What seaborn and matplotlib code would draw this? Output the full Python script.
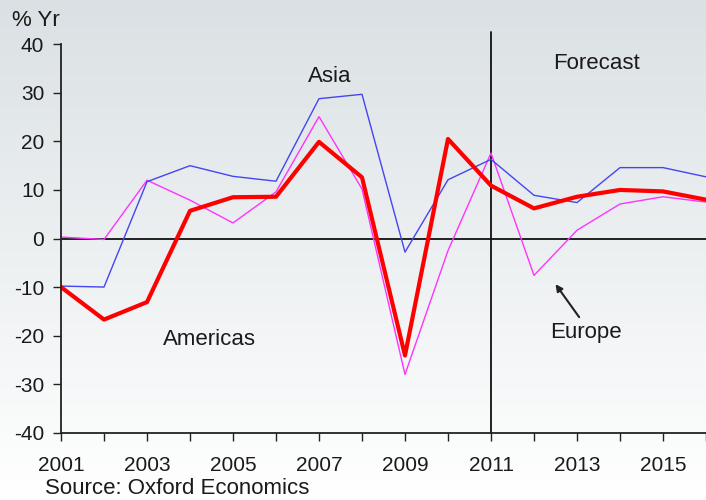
import numpy as np
import pandas as pd
import matplotlib.pyplot as plt
import seaborn as sns

# GDP growth by region, % year on year
years = [2001, 2002, 2003, 2004, 2005, 2006, 2007, 2008,
         2009, 2010, 2011, 2012, 2013, 2014, 2015, 2016]
asia = [-9.8, -10.0, 11.7, 15.0, 12.8, 11.8, 28.8, 29.7,
        -2.8, 12.1, 16.3, 8.9, 7.4, 14.6, 14.6, 12.7]
americas = [-10.0, -16.7, -13.1, 5.7, 8.5, 8.6, 19.9, 12.6,
            -24.1, 20.5, 10.9, 6.2, 8.6, 10.0, 9.7, 8.0]
europe = [0.3, -0.2, 12.0, 7.9, 3.2, 9.6, 25.1, 10.2,
          -28.0, -2.5, 17.6, -7.6, 1.7, 7.1, 8.6, 7.5]
tick_years = [2001, 2003, 2005, 2007, 2009, 2011, 2013, 2015]
forecast_start = 2011

df = pd.DataFrame({"year": years, "Asia": asia, "Americas": americas, "Europe": europe})

sns.set_style("ticks")
plt.rcParams['font.family'] = ['Liberation Sans', 'DejaVu Sans']
plt.rcParams['axes.unicode_minus'] = False

txt_color = '#1a1a1a'

fig = plt.figure(figsize=(7.06, 5.0), dpi=100)

# light grey to white background gradient
bg = fig.add_axes([0, 0, 1, 1], zorder=-10)
grad = np.linspace(0, 1, 256).reshape(-1, 1)
top = np.array([0.855, 0.882, 0.894])
bottom = np.array([1.0, 1.0, 1.0])
img = top + (bottom - top) * grad
bg.imshow(img[:, None, :].repeat(2, axis=1), aspect='auto', extent=[0, 1, 0, 1])
bg.axis('off')

ax = fig.add_axes([61 / 706, 67.3 / 500, 1 - 61 / 706, 388.4 / 500])
ax.set_facecolor('none')

sns.lineplot(data=df, x="year", y="Europe", ax=ax, color="#ff33ff", linewidth=1.0)
sns.lineplot(data=df, x="year", y="Asia", ax=ax, color="#4545f2", linewidth=1.0)
sns.lineplot(data=df, x="year", y="Americas", ax=ax, color="#ff0000", linewidth=3.0)

ax.set_xlim(2001, 2016)
ax.set_ylim(-40, 40)
ax.set_xticks(years)
ax.set_xticklabels([str(y) if y in tick_years else "" for y in years])
ax.set_yticks([-40, -30, -20, -10, 0, 10, 20, 30, 40])
ax.set_xlabel("")
ax.set_ylabel("")
ax.tick_params(axis='both', labelsize=15, length=6, width=1.0, color='#222222',
               labelcolor=txt_color)
ax.tick_params(axis='y', pad=6)
ax.tick_params(axis='x', pad=11)
for s in ['top', 'right']:
    ax.spines[s].set_visible(False)
for s in ['left', 'bottom']:
    ax.spines[s].set_color('#222222')
    ax.spines[s].set_linewidth(1.3)

ax.axhline(0, color='#111111', linewidth=1.3, zorder=1)
ax.plot([forecast_start, forecast_start], [-40, 42.5], color='#111111',
        linewidth=1.3, clip_on=False, zorder=1)

ax.text(2007.25, 33.4, "Asia", fontsize=16, color=txt_color, ha='center', va='center')
ax.text(2013.45, 36.0, "Forecast", fontsize=16, color=txt_color, ha='center', va='center')
ax.text(2004.45, -20.8, "Americas", fontsize=16, color=txt_color, ha='center', va='center')
ax.text(2013.2, -19.4, "Europe", fontsize=16, color=txt_color, ha='center', va='center')
ax.annotate("", xy=(2012.5, -9.4), xytext=(2013.05, -16.2),
            arrowprops=dict(arrowstyle='-|>', color='#222222', lw=1.5,
                            mutation_scale=10, shrinkA=0, shrinkB=0))

fig.text(12 / 706, 1 - 21 / 500, "% Yr", fontsize=16, color=txt_color, va='center', ha='left')
fig.text(45 / 706, 1 - 489 / 500, "Source: Oxford Economics", fontsize=16,
         color=txt_color, va='center', ha='left')

fig.savefig("out.png", dpi=100)
